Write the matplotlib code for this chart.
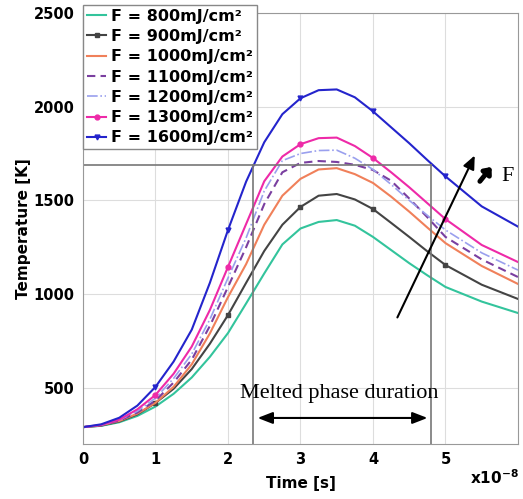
import matplotlib
matplotlib.use('Agg')
import matplotlib.pyplot as plt
import numpy as np

# time in units of 1e-8 s
t = np.array([0, 0.25, 0.5, 0.75, 1, 1.25, 1.5, 1.75, 2, 2.25, 2.5, 2.75, 3,
              3.25, 3.5, 3.75, 4, 4.25, 4.5, 4.75, 5, 5.5, 6])

T800 = [290, 297, 316, 350, 400, 468, 555, 665, 792, 950, 1110, 1265, 1350,
        1385, 1395, 1365, 1305, 1235, 1165, 1100, 1038, 960, 899]
T900 = [290, 298, 320, 358, 419, 495, 600, 735, 888, 1060, 1230, 1370, 1465,
        1525, 1534, 1505, 1454, 1380, 1305, 1228, 1155, 1050, 974]
T1000 = [290, 300, 323, 362, 420, 505, 625, 790, 984, 1160, 1370, 1525, 1615,
         1665, 1672, 1640, 1593, 1520, 1440, 1355, 1272, 1150, 1054]
T1100 = [290, 300, 325, 368, 432, 528, 650, 830, 1038, 1250, 1480, 1650, 1700,
         1710, 1705, 1690, 1662, 1605, 1510, 1410, 1305, 1185, 1091]
T1200 = [290, 301, 328, 375, 445, 550, 680, 865, 1086, 1300, 1550, 1712, 1750,
         1766, 1768, 1725, 1665, 1585, 1500, 1420, 1342, 1220, 1128]
T1300 = [290, 302, 330, 385, 462, 575, 720, 915, 1145, 1374, 1602, 1734, 1800,
         1832, 1835, 1790, 1726, 1650, 1570, 1485, 1400, 1262, 1171]
T1600 = [290, 305, 340, 405, 505, 640, 810, 1060, 1342, 1600, 1810, 1960, 2045,
         2088, 2092, 2050, 1975, 1890, 1805, 1715, 1628, 1468, 1360]

labels = ['F = 800mJ/cm²', 'F = 900mJ/cm²', 'F = 1000mJ/cm²', 'F = 1100mJ/cm²',
          'F = 1200mJ/cm²', 'F = 1300mJ/cm²', 'F = 1600mJ/cm²']

T_melt = 1690
t_start, t_end = 2.35, 4.8

sec = t * 1e-8
marks = [4, 8, 12, 16, 20]  # t = 1..5

fig = plt.figure(figsize=(5.23, 4.99), dpi=100)
ax = fig.add_axes([0.1587, 0.1102, 0.8317, 0.8638])

ax.plot(sec, T800, color='#33c49c', lw=1.5, label=labels[0])
ax.plot(sec, T900, color='#444444', lw=1.5, marker='s', ms=3.5, markevery=marks, label=labels[1])
ax.plot(sec, T1000, color='#f0805a', lw=1.5, label=labels[2])
ax.plot(sec, T1100, color='#7a3fa0', lw=1.5, ls=(0, (4, 2.5)), label=labels[3])
ax.plot(sec, T1200, color='#9aa0ee', lw=1.2, ls='-.', label=labels[4])
ax.plot(sec, T1300, color='#ee2aa8', lw=1.5, marker='o', ms=3.5, markevery=marks, label=labels[5])
ax.plot(sec, T1600, color='#2424cc', lw=1.5, marker='v', ms=3.5, markevery=marks, label=labels[6])

# melting temperature and melt duration
ax.plot([0, t_end * 1e-8], [T_melt, T_melt], color='#777777', lw=1.2)
ax.plot([t_start * 1e-8] * 2, [200, T_melt], color='#777777', lw=1.2)
ax.plot([t_end * 1e-8] * 2, [200, T_melt], color='#777777', lw=1.2)

ax.annotate('', xy=(2.37e-8, 339), xytext=(4.79e-8, 339),
            arrowprops=dict(arrowstyle='<|-|>,head_length=0.9,head_width=0.35', color='black', lw=1.5))
ax.text(3.54e-8, 472, 'Melted phase duration', family='Liberation Serif', fontsize=16,
        ha='center', va='center')

ax.annotate('', xy=(5.42e-8, 1753), xytext=(4.32e-8, 862),
            arrowprops=dict(arrowstyle='-|>,head_length=0.8,head_width=0.35', color='black', lw=1.5))
ax.annotate('', xy=(5.66e-8, 1690), xytext=(5.45e-8, 1590),
            arrowprops=dict(arrowstyle='-|>,head_length=0.35,head_width=0.3', color='black', lw=3.5))
ax.text(5.85e-8, 1630, 'F', family='Liberation Serif', fontsize=16, ha='center', va='center')

ax.set_xlim(0, 6e-8)
ax.set_ylim(200, 2500)
ax.set_xticks(np.arange(0, 6) * 1e-8)
ax.set_xticklabels([str(i) for i in range(6)])
ax.set_yticks([500, 1000, 1500, 2000, 2500])
ax.grid(True, color='#dddddd', lw=0.8)
ax.tick_params(length=0, labelsize=10.5, pad=6)
for lab in ax.get_xticklabels() + ax.get_yticklabels():
    lab.set_fontweight('bold')
for s in ax.spines.values():
    s.set_color('#999999')

ax.set_xlabel('Time [s]', fontsize=11, fontweight='bold', labelpad=6)
ax.set_ylabel('Temperature [K]', fontsize=11, fontweight='bold', labelpad=2)
fig.text(0.993, 0.025, 'x10$^{\\mathbf{-8}}$', fontsize=11, fontweight='bold', ha='right', va='bottom')

leg = ax.legend(loc='upper left', bbox_to_anchor=(0, 1.019), borderaxespad=0,
                fancybox=False, framealpha=1, edgecolor='#888888', prop=dict(size=11.5, weight='bold'),
                handlelength=1.2, handletextpad=0.3, labelspacing=0.33, borderpad=0.25)
leg.get_frame().set_linewidth(1.0)

fig.savefig('out.png', dpi=100)
